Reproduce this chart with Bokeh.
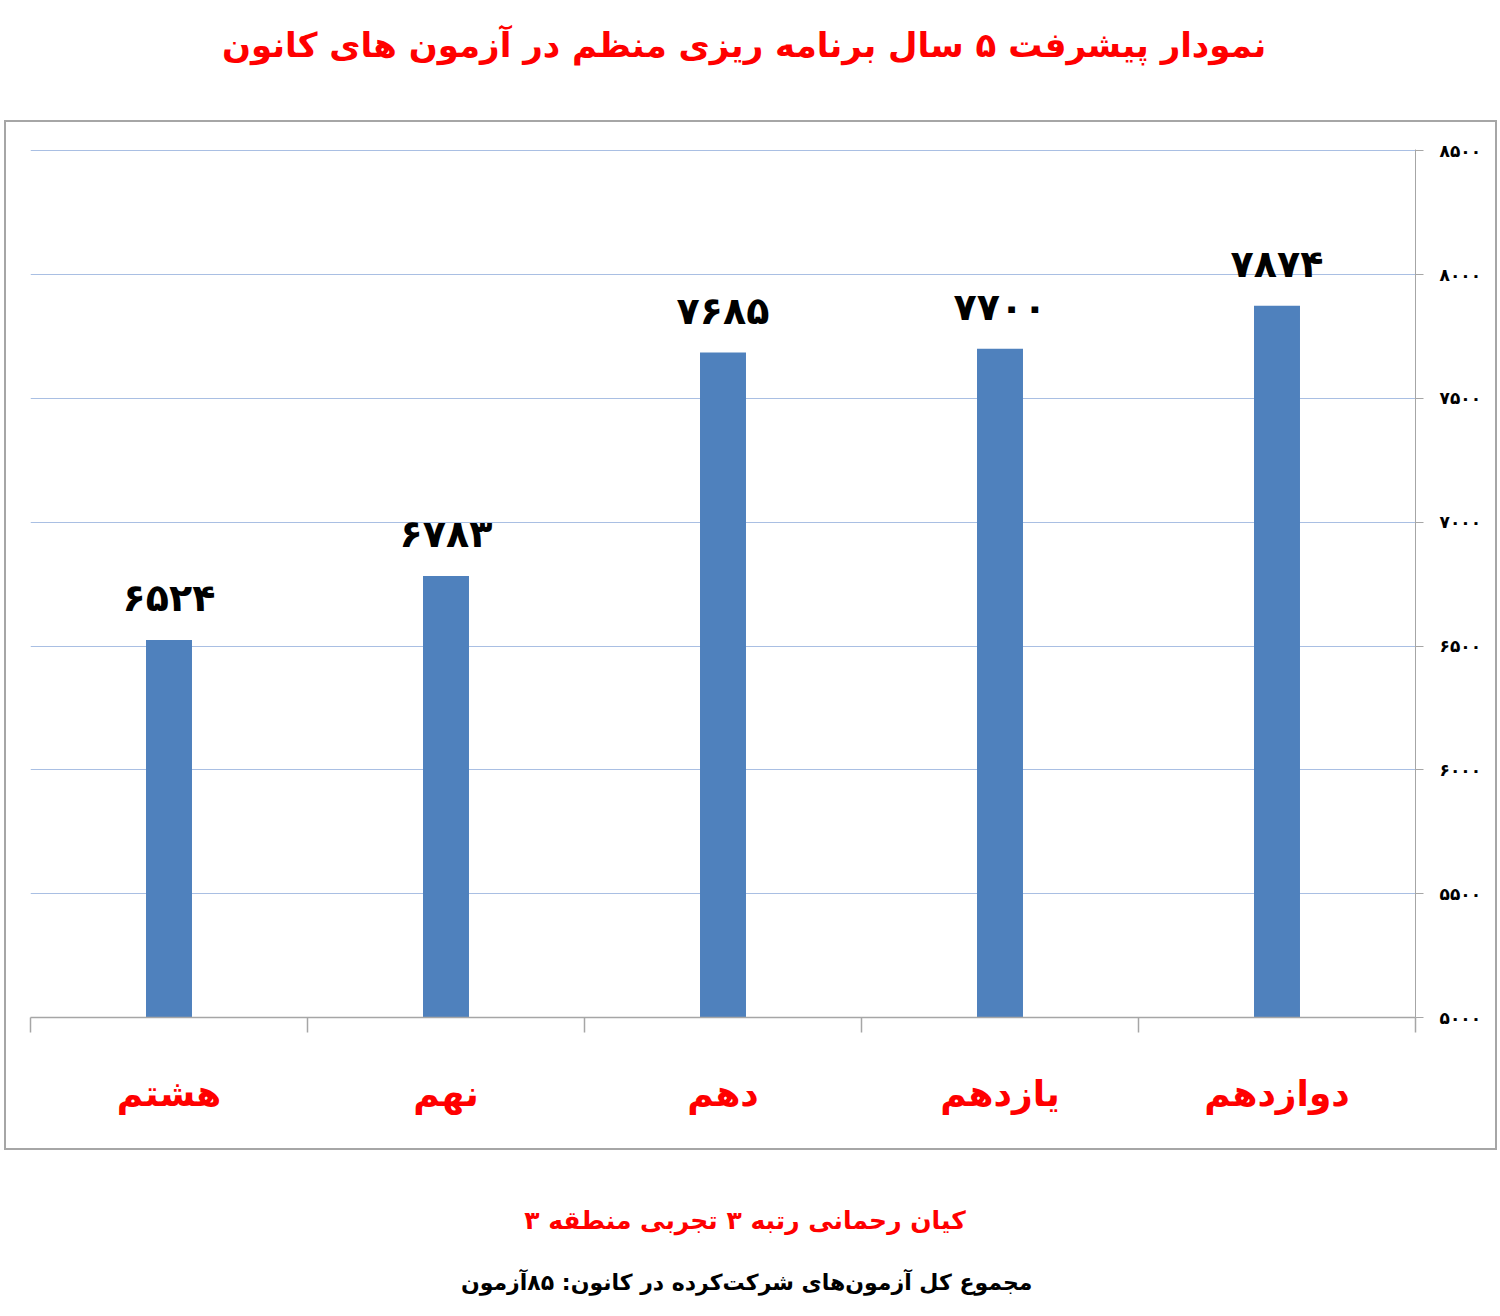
from bokeh.plotting import figure
from bokeh.layouts import column
from bokeh.models import (ColumnDataSource, FixedTicker, LinearAxis, Range1d, Label)
from bokeh.core.properties import value
from bokeh.embed import file_html
from bokeh.resources import INLINE

# ---- data ----
categories = ["هشتم", "نهم", "دهم", "یازدهم", "دوازدهم"]
scores = [6524, 6783, 7685, 7700, 7874]
y_ticks = [5000, 5500, 6000, 6500, 7000, 7500, 8000, 8500]
title_text = "نمودار پیشرفت ۵ سال برنامه ریزی منظم در آزمون های کانون"
subtitle_text = "کیان رحمانی رتبه ۳ تجربی منطقه ۳"
footer_text = "مجموع کل آزمون‌های شرکت‌کرده در کانون:  ۸۵آزمون"

FA = str.maketrans("0123456789", "۰۱۲۳۴۵۶۷۸۹")
def fa(n):
    return str(n).translate(FA)

FONT = "DejaVu Sans"
RED = "#ff0000"
W = 1484


def text_fig(height):
    f = figure(width=W, height=height, output_backend="svg", toolbar_location=None,
               x_range=Range1d(0, W), y_range=Range1d(height, 0),
               x_axis_location=None, y_axis_location=None,
               min_border=0, min_border_left=0, min_border_right=0,
               min_border_top=0, min_border_bottom=0)
    f.outline_line_color = None
    f.grid.visible = False
    return f


# ---- top title ----
top = text_fig(120)
top.add_layout(Label(x=776, y=44, text=title_text, text_align="center",
                     text_baseline="middle", text_font=FONT, text_font_style="bold",
                     text_font_size="34px", text_color=RED))

# ---- chart ----
CW, CH = 1493, 1030
p = figure(width=CW, height=CH, output_backend="svg", toolbar_location=None,
           x_range=Range1d(0, len(categories)), y_range=Range1d(5000, 8505),
           y_axis_location=None, x_axis_location=None,
           min_border_left=24, min_border_right=84,
           min_border_top=27, min_border_bottom=135,
           styles={"border": "2px solid #a6a6a6"}, margin=(0, 0, 0, 4))
p.outline_line_color = None
p.background_fill_color = "white"
p.border_fill_color = "white"

xs = [i + 0.5 for i in range(len(categories))]
src = ColumnDataSource(dict(x=xs, top=scores, lbl=[fa(v) for v in scores]))

p.vbar(x="x", top="top", bottom=5000, width=0.166, source=src,
       fill_color="#4f81bd", line_color=None)

p.text(x="x", y="top", text="lbl", source=src, text_align="center",
       text_baseline="alphabetic", y_offset=-42,
       text_font=value(FONT), text_font_style="bold",
       text_font_size="38px", text_color="black")

yax = LinearAxis(ticker=FixedTicker(ticks=y_ticks),
                 major_label_overrides={t: fa(t) for t in y_ticks})
yax.axis_line_color = "#a6a6a6"
yax.major_tick_line_color = "#a6a6a6"
yax.major_tick_in = 0
yax.major_tick_out = 8
yax.minor_tick_line_color = None
yax.major_label_standoff = 16
yax.major_label_text_font = FONT
yax.major_label_text_font_style = "bold"
yax.major_label_text_font_size = "17px"
yax.major_label_text_color = "black"
p.add_layout(yax, "right")

xax = LinearAxis(ticker=FixedTicker(ticks=xs,
                                    minor_ticks=list(range(len(categories) + 1))),
                 major_label_overrides={x: c for x, c in zip(xs, categories)})
xax.axis_line_color = "#a6a6a6"
xax.axis_line_width = 1.5
xax.major_tick_line_color = None
xax.major_tick_out = 0
xax.major_tick_in = 0
xax.minor_tick_line_color = "#a6a6a6"
xax.minor_tick_line_width = 1.5
xax.minor_tick_in = 0
xax.minor_tick_out = 15
xax.major_label_standoff = 40
xax.major_label_text_font = FONT
xax.major_label_text_font_style = "bold"
xax.major_label_text_font_size = "36px"
xax.major_label_text_color = RED
p.add_layout(xax, "below")

p.xgrid.visible = False
p.ygrid.ticker = FixedTicker(ticks=y_ticks)
p.ygrid.grid_line_color = "#a9bfe3"
p.ygrid.grid_line_width = 1.2

# ---- bottom texts ----
bot = text_fig(150)
bot.add_layout(Label(x=777, y=70, text=subtitle_text, text_align="center",
                     text_baseline="middle", text_font=FONT, text_font_style="bold",
                     text_font_size="25px", text_color=RED))
bot.add_layout(Label(x=783, y=132, text=footer_text, text_align="center",
                     text_baseline="middle", text_font=FONT, text_font_style="bold",
                     text_font_size="22px", text_color="black"))

layout = column(top, p, bot, spacing=0)
open("out.html", "w").write(file_html(layout, INLINE))
